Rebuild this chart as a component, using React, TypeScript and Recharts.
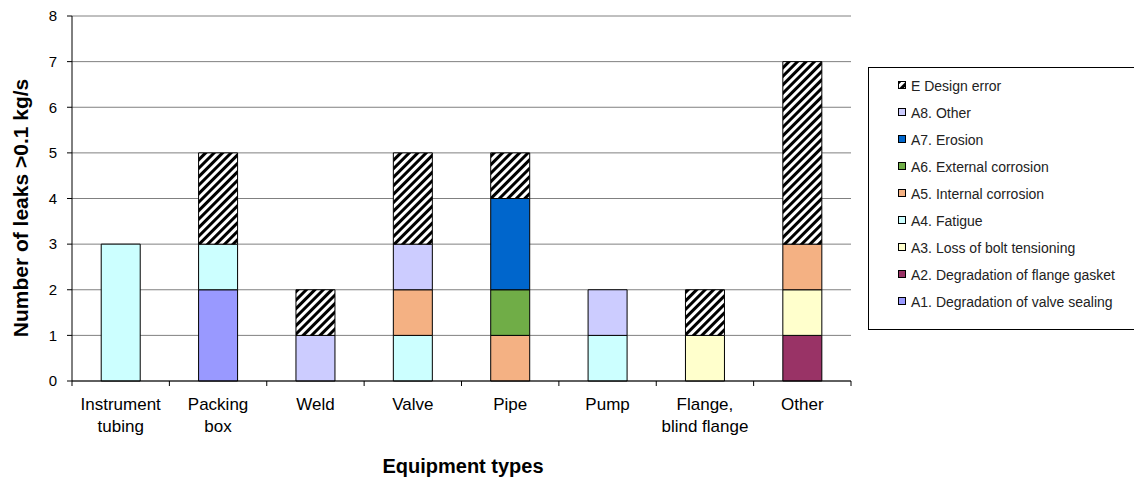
import { Bar, BarChart, CartesianGrid, Legend, XAxis, YAxis } from "recharts"

const categories = [
  "Instrument\ntubing",
  "Packing\nbox",
  "Weld",
  "Valve",
  "Pipe",
  "Pump",
  "Flange,\nblind flange",
  "Other",
]

// stacked bottom -> top
const a1 = [0, 2, 0, 0, 0, 0, 0, 0]
const a2 = [0, 0, 0, 0, 0, 0, 0, 1]
const a3 = [0, 0, 0, 0, 0, 0, 1, 1]
const a4 = [3, 1, 0, 1, 0, 1, 0, 0]
const a5 = [0, 0, 0, 1, 1, 0, 0, 1]
const a6 = [0, 0, 0, 0, 1, 0, 0, 0]
const a7 = [0, 0, 0, 0, 2, 0, 0, 0]
const a8 = [0, 0, 1, 1, 0, 1, 0, 0]
const designError = [0, 2, 1, 2, 1, 0, 1, 4]

const yTicks = [0, 1, 2, 3, 4, 5, 6, 7, 8]

const series = [
  { key: "a1", name: "A1. Degradation of valve sealing", values: a1, fill: "#9999FF" },
  { key: "a2", name: "A2. Degradation of flange gasket", values: a2, fill: "#993366" },
  { key: "a3", name: "A3. Loss of bolt tensioning", values: a3, fill: "#FFFFCC" },
  { key: "a4", name: "A4. Fatigue", values: a4, fill: "#CCFFFF" },
  { key: "a5", name: "A5. Internal corrosion", values: a5, fill: "#F4B183" },
  { key: "a6", name: "A6. External corrosion", values: a6, fill: "#70AD47" },
  { key: "a7", name: "A7. Erosion", values: a7, fill: "#0066CC" },
  { key: "a8", name: "A8. Other", values: a8, fill: "#CCCCFF" },
  { key: "e", name: "E Design error", values: designError, fill: "url(#hatch)" },
]

const data = categories.map((name, i) => {
  const row: Record<string, string | number> = { name }
  series.forEach((s) => {
    row[s.key] = s.values[i]
  })
  return row
})

const FONT = "'Liberation Sans', Arial, sans-serif"
const PLOT_LEFT = 72
const PLOT_RIGHT = 851
const BAND = (PLOT_RIGHT - PLOT_LEFT) / categories.length

const XTick = (props: any) => {
  const { x, y, payload, index } = props
  const lines = String(payload.value).split("\n")
  return (
    <g>
      <line x1={x - BAND / 2} x2={x - BAND / 2} y1={y} y2={y + 5} stroke="#000" />
      {index === categories.length - 1 && (
        <line x1={x + BAND / 2} x2={x + BAND / 2} y1={y} y2={y + 5} stroke="#000" />
      )}
      {lines.map((l, i) => (
        <text key={i} x={x} y={y + 29 + i * 22} textAnchor="middle" fontSize={17} fill="#000" fontFamily={FONT}>
          {l}
        </text>
      ))}
    </g>
  )
}

const LegendBox = () => (
  <div
    style={{
      border: "1px solid #000",
      width: 274,
      height: 263,
      boxSizing: "border-box",
      paddingTop: 4,
      fontFamily: FONT,
      fontSize: 14,
      color: "#222",
    }}
  >
    {[...series].reverse().map((s) => (
      <div key={s.key} style={{ display: "flex", alignItems: "center", height: 27, paddingLeft: 29 }}>
        <svg width={9} height={9} style={{ marginRight: 4 }}>
          <rect x={0.5} y={0.5} width={7} height={7} fill={s.fill} stroke="#000" />
        </svg>
        <span>{s.name}</span>
      </div>
    ))}
  </div>
)

export default function App() {
  return (
    <div style={{ margin: "-8px 0 0 -8px", width: 1142, height: 477, background: "#fff", position: "relative" }}>
      <BarChart
        width={1142}
        height={477}
        data={data}
        margin={{ top: 16, right: 1142 - PLOT_RIGHT, bottom: 36, left: 32 }}
        barCategoryGap="30%"
      >
        <defs>
          <pattern id="hatch" patternUnits="userSpaceOnUse" width={6} height={6} patternTransform="rotate(45)">
            <rect width={6} height={6} fill="#fff" />
            <rect width={3} height={6} fill="#000" />
          </pattern>
        </defs>
        <CartesianGrid vertical={false} stroke="#808080" />
        <XAxis
          dataKey="name"
          interval={0}
          height={60}
          tickLine={false}
          tickSize={0}
          tickMargin={0}
          axisLine={{ stroke: "#000" }}
          tick={<XTick />}
          label={{
            content: () => (
              <text x={463} y={466} textAnchor="middle" dominantBaseline="central" fontSize={20} fontWeight="bold" fontFamily={FONT} fill="#000">
                Equipment types
              </text>
            ),
          }}
        />
        <YAxis
          width={40}
          domain={[0, 8]}
          ticks={yTicks}
          interval={0}
          tickSize={5}
          tickMargin={10}
          axisLine={{ stroke: "#000" }}
          tickLine={{ stroke: "#000" }}
          tick={{ fontSize: 15, fill: "#000", fontFamily: FONT }}
          label={{
            content: () => (
              <text
                x={20}
                y={208}
                transform="rotate(-90 20 208)"
                textAnchor="middle"
                dominantBaseline="central"
                fontSize={21}
                fontWeight="bold"
                fontFamily={FONT}
                fill="#000"
              >
                {"Number of leaks >0.1 kg/s"}
              </text>
            ),
          }}
        />
        <YAxis yAxisId="frame" orientation="right" width={0} domain={[0, 8]} tick={false} tickLine={false} axisLine={{ stroke: "#808080" }} />
        <Legend
          layout="vertical"
          align="center"
          verticalAlign="middle"
          content={<LegendBox />}
          wrapperStyle={{ left: 868, top: 67, width: 274, height: 263 }}
        />
        {series.map((s) => (
          <Bar
            key={s.key}
            dataKey={s.key}
            name={s.name}
            stackId="a"
            fill={s.fill}
            stroke="#000"
            strokeWidth={1}
            isAnimationActive={false}
          />
        ))}
      </BarChart>
    </div>
  )
}
